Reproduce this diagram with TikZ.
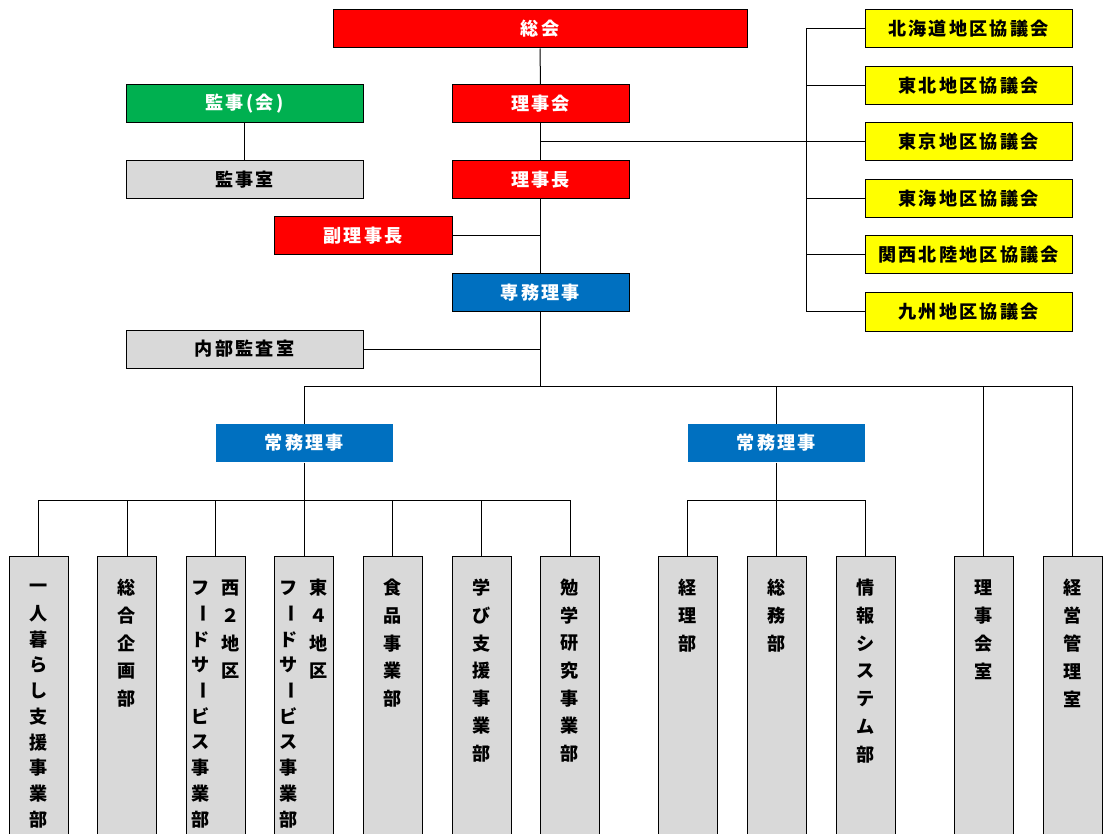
\documentclass[tikz,border=0pt]{standalone}
\usepackage{fontspec}
\newfontfamily\jp{Noto Sans CJK JP}[LetterSpace=12]
\newfontfamily\jpv{Noto Sans CJK JP}
\definecolor{cred}{HTML}{FF0000}
\definecolor{cgreen}{HTML}{00B050}
\definecolor{cblue}{HTML}{0070C0}
\definecolor{cyellow}{HTML}{FFFF00}
\definecolor{cgray}{HTML}{D9D9D9}
\newcommand\vb{\rotatebox[origin=c]{-90}{ー}}
\newcommand\vcol[4]{% x, prefix, spacing, list
  \foreach \c [count=\i] in {#4} \node[vch] (#2-\i) at (#1, {588+(\i-1)*#3}) {\c};}
\begin{document}
\begin{tikzpicture}[x=0.75pt,y=-0.75pt,
  box/.style={draw=black, line width=0.75pt, minimum height=28.5pt, inner sep=0pt,
    font=\jp\bfseries\fontsize{13.6pt}{16pt}\selectfont},
  redbox/.style={box, fill=cred, text=white, minimum width=132.75pt},
  greenbox/.style={box, fill=cgreen, text=white, minimum width=177.75pt},
  graybox/.style={box, fill=cgray, text=black, minimum width=177.75pt},
  bluebox/.style={box, fill=cblue, text=white, minimum width=132.75pt},
  blueplain/.style={bluebox, draw=none},
  yellowbox/.style={box, fill=cyellow, text=black, minimum width=155.25pt},
  vbox/.style={draw=black, line width=0.75pt, fill=cgray, minimum width=44.25pt,
    minimum height=220.5pt, inner sep=0pt},
  vch/.style={inner sep=0pt, font=\jpv\bfseries\fontsize{13.6pt}{16pt}\selectfont},
  conn/.style={draw=black, line width=0.75pt}]
\useasboundingbox (0,0) rectangle (1110,834);
\clip (0,0) rectangle (1110,834);
\fill[white] (0,0) rectangle (1110,834);

% top
\node[redbox, minimum width=310.5pt] (sokai) at (540,29) {総会};
\node[greenbox] (kanji) at (244.5,104) {監事(会)};
\node[redbox] (rijikai) at (540.5,104) {理事会};
\node[graybox] (kanjishitsu) at (244.5,180) {監事室};
\node[redbox] (rijicho) at (540.5,180) {理事長};
\node[redbox, minimum width=133.5pt] (fuku) at (363,236) {副理事長};
\node[bluebox] (senmu) at (540.5,293) {専務理事};
\node[graybox] (naibu) at (244.5,349) {内部監査室};
\node[blueplain] (jomuL) at (304.5,443) {常務理事};
\node[blueplain] (jomuR) at (776.5,443) {常務理事};

% regional councils
\node[yellowbox] (y1) at (968.5,29) {北海道地区協議会};
\node[yellowbox] (y2) at (968.5,86) {東北地区協議会};
\node[yellowbox] (y3) at (968.5,142) {東京地区協議会};
\node[yellowbox] (y4) at (968.5,199) {東海地区協議会};
\node[yellowbox] (y5) at (968.5,255) {関西北陸地区協議会};
\node[yellowbox] (y6) at (968.5,312) {九州地区協議会};

% bottom boxes
\foreach \x [count=\k] in {38.5,127,215.5,304,392.5,481.5,570,687.5,776.5,865.5,983.5,1072.5}
  \node[vbox] (b\k) at (\x,703) {};

\vcol{38.5}{t1}{25.7}{一,人,暮,ら,し,支,援,事,業,部}
\vcol{127}{t2}{27.6}{総,合,企,画,部}
\vcol{230.5}{t3r}{27.6}{西,２,地,区}
\vcol{200.5}{t3l}{25.7}{フ,\vb,ド,サ,\vb,ビ,ス,事,業,部}
\vcol{319}{t4r}{27.6}{東,４,地,区}
\vcol{289}{t4l}{25.7}{フ,\vb,ド,サ,\vb,ビ,ス,事,業,部}
\vcol{392.5}{t5}{27.6}{食,品,事,業,部}
\vcol{481.5}{t6}{27.6}{学,び,支,援,事,業,部}
\vcol{570}{t7}{27.6}{勉,学,研,究,事,業,部}
\vcol{687.5}{t8}{27.8}{経,理,部}
\vcol{776.5}{t9}{27.8}{総,務,部}
\vcol{865.5}{t10}{27.8}{情,報,シ,ス,テ,ム,部}
\vcol{983.5}{t11}{27.8}{理,事,会,室}
\vcol{1072.5}{t12}{27.8}{経,営,管,理,室}

% connectors: central spine
\draw[conn] (sokai.south) -- (rijikai.north);
\draw[conn] (rijikai.south) -- (rijicho.north);
\draw[conn] (rijicho.south) -- (senmu.north);
\draw[conn] (kanji.south) -- (kanjishitsu.north);
\draw[conn] (fuku.east) -- (fuku.east -| senmu.south);
\coordinate (bus) at (540.5,386);
\draw[conn] (senmu.south) -- (bus);
\draw[conn] (naibu.east) -- (naibu.east -| senmu.south);

% councils bracket
\coordinate (jm) at (540.5,142);
\coordinate (brT) at (806,29);
\coordinate (brB) at (806,312);
\draw[conn] (jm) -- (jm -| brT);
\draw[conn] (brT) -- (brB);
\foreach \k in {1,...,6} \draw[conn] (y\k.west -| brT) -- (y\k.west);

% main bus
\coordinate (busL) at (304.5,386);
\coordinate (busR) at (1072.5,386);
\draw[conn] (busL) -- (busR);
\draw[conn] (busL) -- (jomuL.north);
\draw[conn] (jomuR.north |- bus) -- (jomuR.north);
\draw[conn] (b11.north |- bus) -- (b11.north);
\draw[conn] (busR) -- (b12.north);

% left group
\coordinate (gL) at (304.5,500);
\draw[conn] (jomuL.south) -- (gL);
\draw[conn] (b1.north |- gL) -- (b7.north |- gL);
\foreach \k in {1,...,7} \draw[conn] (b\k.north |- gL) -- (b\k.north);

% right group
\coordinate (gR) at (776.5,500);
\draw[conn] (jomuR.south) -- (gR);
\draw[conn] (b8.north |- gR) -- (b10.north |- gR);
\foreach \k in {8,9,10} \draw[conn] (b\k.north |- gR) -- (b\k.north);
\end{tikzpicture}
\end{document}
